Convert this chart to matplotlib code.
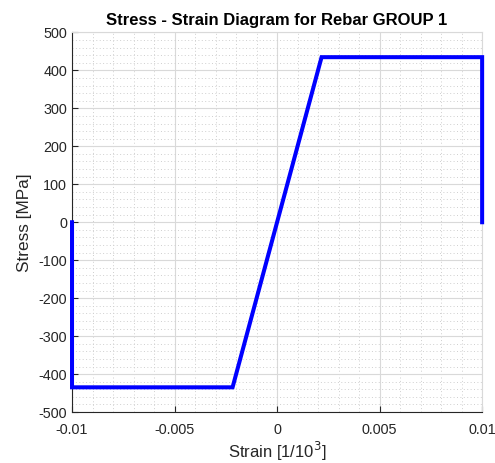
import matplotlib
matplotlib.use("Agg")
import matplotlib.pyplot as plt
from matplotlib.ticker import MultipleLocator

plt.rcParams['font.family'] = ['Liberation Sans', 'DejaVu Sans']
plt.rcParams['axes.unicode_minus'] = False

# stress-strain path (strain, stress in MPa)
strain = [-0.01, -0.01, -0.00217, 0.00217, 0.01, 0.01]
stress = [0, -434.8, -434.8, 434.8, 434.8, 0]

fig = plt.figure(figsize=(4.95, 4.63), dpi=100)
ax = fig.add_axes([0.1455, 0.110, 0.8285, 0.820])

ax.plot(strain, stress, color='#0000ff', linewidth=2.9, solid_joinstyle='miter',
        clip_on=False, zorder=5)

ax.set_xlim(-0.01, 0.01)
ax.set_ylim(-500, 500)
ax.yaxis.set_major_locator(MultipleLocator(100))
ax.xaxis.set_minor_locator(MultipleLocator(0.001))
ax.yaxis.set_minor_locator(MultipleLocator(20))
ax.set_xticks([-0.01, -0.005, 0, 0.005, 0.01])
ax.set_xticklabels(['-0.01', '-0.005', '0', '0.005', '0.01'])

ax.grid(which='major', color='#d9d9d9', linewidth=0.8)
ax.grid(which='minor', color='#cfcfcf', linewidth=0.7, linestyle=(0, (1, 2.5)))
ax.set_axisbelow(True)

for side in ['top', 'right']:
    ax.spines[side].set_color('#d9d9d9')
for side in ['left', 'bottom']:
    ax.spines[side].set_color('#262626')
ax.tick_params(which='both', direction='in', colors='#262626', labelsize=10.4)
ax.tick_params(which='minor', length=0)
ax.tick_params(which='major', length=4, top=False, right=False)
ax.tick_params(axis='x', pad=8)

ax.set_title('Stress - Strain Diagram for Rebar GROUP 1', fontsize=12,
             fontweight='bold', pad=5)
ax.set_xlabel('Strain [1/10$^3$]', fontsize=12, color='#262626', labelpad=2)
ax.set_ylabel('Stress [MPa]', fontsize=12.4, color='#262626', labelpad=5)

fig.savefig('out.png', dpi=100)
